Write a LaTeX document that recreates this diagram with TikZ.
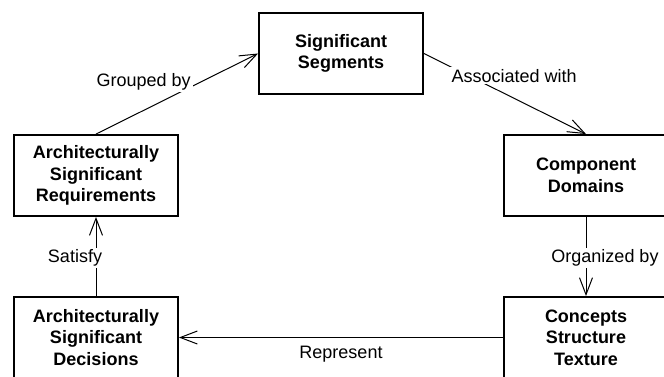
\documentclass[tikz,border=0pt]{standalone}
\usepackage{fontspec}
\setmainfont{Liberation Sans}
\usetikzlibrary{arrows.meta}
\begin{document}
\begin{tikzpicture}[x=1pt,y=-1pt,
  entity/.style={draw, line width=1.9pt, minimum width=164pt, minimum height=81pt,
    inner sep=0pt, align=center, font=\fontsize{18}{21.5}\selectfont\bfseries},
  rel/.style={line width=1pt, -{Straight Barb[length=17pt,width=13pt,line width=1pt]}},
  lbl/.style={font=\fontsize{18}{21}\selectfont, fill=white, inner sep=2pt}]
\useasboundingbox (0,0) rectangle (664,376);
\clip (0,0) rectangle (664,376);

% the five concepts
\node[entity] (seg) at (341,53.5)  {Significant\\Segments};
\node[entity] (req) at (96,175.5)  {Architecturally\\Significant\\Requirements};
\node[entity] (dec) at (96,337.5)  {Architecturally\\Significant\\Decisions};
\node[entity] (dom) at (586,175.5) {Component\\Domains};
\node[entity] (con) at (586,337.5) {Concepts\\Structure\\Texture};

% relations between them
\draw[rel] (req.north) -- node[lbl, pos=0.6, anchor=east, yshift=4pt] {Grouped by} (seg.west);
\draw[rel] (seg.east) -- node[lbl, pos=0.55, xshift=1pt, yshift=22pt] {Associated with} (dom.north);
\draw[rel] (dom.south) -- node[lbl, midway, xshift=19pt, yshift=-1.5pt] {Organized by} (con.north);
\draw[rel] (con.west) -- node[lbl, midway, below=6pt, fill=none] {Represent} (dec.east);
\draw[rel] (dec.north) -- node[lbl, midway, xshift=-21pt, yshift=-1.5pt] {Satisfy} (req.south);
\end{tikzpicture}
\end{document}
